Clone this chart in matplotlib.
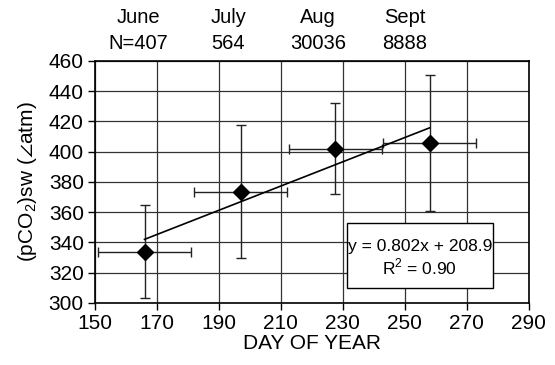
import matplotlib
matplotlib.use("Agg")
from matplotlib import pyplot as plt
from matplotlib.patches import Rectangle

plt.rcParams['font.family'] = ['Liberation Sans', 'DejaVu Sans']
plt.rcParams['mathtext.fontset'] = 'custom'
plt.rcParams['mathtext.rm'] = 'Liberation Sans'

# data
day = [166, 197, 227.5, 258]
pco2 = [334, 373.5, 402, 406]
day_err = [15, 15, 15, 15]
pco2_err = [31, 44, 30, 45]
months = ["June", "July", "Aug", "Sept"]
counts = ["N=407", "564", "30036", "8888"]
month_x = [164, 193, 222, 250]
slope = 0.802
intercept = 208.9
r2 = 0.90

fig = plt.figure(figsize=(5.55, 3.65), dpi=100)
ax = fig.add_axes([0.171, 0.170, 0.782, 0.663])

ax.errorbar(day, pco2, xerr=day_err, yerr=pco2_err, fmt='D', color='black',
            ms=8, ecolor='#222222', elinewidth=1, capsize=3.5, capthick=1, zorder=3)

# trend line
fit_x = [day[0], day[-1]]
fit_y = [slope * v + intercept for v in fit_x]
ax.plot(fit_x, fit_y, color='black', lw=1.2, zorder=3)

ax.set_xlim(150, 290)
ax.set_ylim(300, 460)
ax.set_xticks(range(150, 291, 20))
ax.set_yticks(range(300, 461, 20))
ax.grid(True, color='#333333', lw=0.9)
ax.set_axisbelow(True)
for s in ax.spines.values():
    s.set_linewidth(1.2)
ax.tick_params(labelsize=15, length=5, width=1, direction='out', pad=3)
ax.set_xlabel("DAY OF YEAR", fontsize=15, labelpad=1)
ax.set_ylabel("(pCO$_2$)sw ($\\angle$atm)", fontsize=15, labelpad=7)

# month / count labels above the plot
for mx, m, n in zip(month_x, months, counts):
    ax.text(mx, 1.178, m, transform=ax.get_xaxis_transform(), ha='center',
            va='center', fontsize=14.5)
    ax.text(mx, 1.074, n, transform=ax.get_xaxis_transform(), ha='center',
            va='center', fontsize=14.5)

# equation box
ax.add_patch(Rectangle((231.2, 309.7), 47.2, 43, fc='white', ec='black',
                       lw=1, zorder=4))
ax.text(254.8, 337.5, "y = %.3fx + %.1f" % (slope, intercept), ha='center',
        va='center', fontsize=12.5, zorder=5)
ax.text(254.8, 323.5, "R$^2$ = %.2f" % r2, ha='center', va='center',
        fontsize=12.5, zorder=5)

plt.savefig("out.png", dpi=100)
